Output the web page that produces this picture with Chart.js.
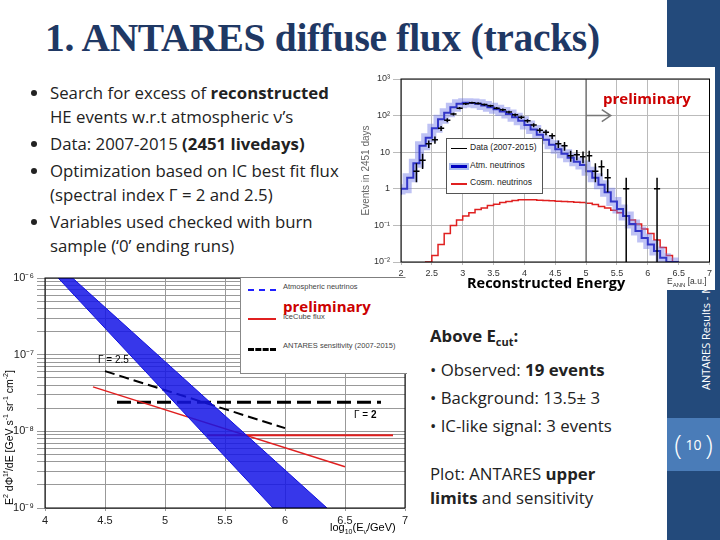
<!DOCTYPE html>
<html><head><meta charset="utf-8">
<script src="https://cdn.jsdelivr.net/npm/chart.js@4"></script>
<style>
body{margin:0;width:720px;height:540px;position:relative;overflow:hidden;background:#fff;font-family:"Open Sans",sans-serif;}
.abs{position:absolute;}
#side{left:667px;top:0;width:53px;height:540px;background:#234a7b;}
#pg{left:667px;top:418px;width:53px;height:53px;background:#4a7cb8;color:#fff;font-size:14px;text-align:center;line-height:53px;}
#title{left:45px;top:15px;font-family:"Liberation Serif",serif;font-weight:bold;font-size:39.5px;color:#1f3864;white-space:nowrap;letter-spacing:-0.3px}
.txt{font-size:16.8px;color:#222;line-height:24px;}
ul{margin:0;padding-left:22px;}
li{margin:0 0 3px 0;}
.leg{background:#fff;border:1px solid #555;font-family:"Liberation Sans",sans-serif;font-size:8.5px;color:#222;}
.prel{color:#c00;font-weight:bold;font-size:15px;}
</style></head><body>
<div id="side" class="abs"></div>
<div id="pg" class="abs"><span style="font-size:28px;font-weight:100;vertical-align:top">(</span> 10 <span style="font-size:28px;font-weight:100;vertical-align:top">)</span></div>
<div class="abs" style="left:698px;top:390px;transform:rotate(-90deg);transform-origin:0 0;color:#fff;font-size:11px;white-space:nowrap">ANTARES Results - M</div>
<div id="title" class="abs">1. ANTARES diffuse flux (tracks)</div>
<div class="abs txt" style="left:28px;top:81px;width:322px">
<ul>
<li>Search for excess of <b>reconstructed</b> HE events w.r.t atmospheric ν’s</li>
<li>Data: 2007-2015 <b>(2451 livedays)</b></li>
<li>Optimization based on IC best fit flux (spectral index Γ = 2 and 2.5)</li>
<li>Variables used checked with burn sample (‘0’ ending runs)</li>
</ul></div>
<div class="abs" style="left:360px;top:67px;width:355px;height:223px;background:#fff"></div>
<canvas id="c1" class="abs" width="355" height="211" style="left:360px;top:67px"></canvas>
<div class="abs" style="left:667px;top:276px;font-size:8.5px;color:#333;font-family:'Liberation Sans';white-space:nowrap">E<sub style="font-size:6px">ANN</sub> [a.u.]</div>
<div class="abs leg" style="left:446px;top:138px;width:95px;height:54px">
<div style="position:absolute;left:4px;top:9px;width:16px;border-top:1px solid #000"></div><div style="position:absolute;left:23px;top:3px;white-space:nowrap">Data (2007-2015)</div>
<div style="position:absolute;left:4px;top:26px;width:16px;border-top:3px solid #0000c0;box-shadow:0 0 0 2px #aabbee"></div><div style="position:absolute;left:23px;top:21px">Atm. neutrinos</div>
<div style="position:absolute;left:4px;top:44px;width:16px;border-top:2px solid #e02020"></div><div style="position:absolute;left:23px;top:38px;white-space:nowrap">Cosm. neutrinos</div>
</div>
<div class="abs prel" style="left:603px;top:88px">preliminary</div>
<div class="abs" style="left:467px;top:273px;font-weight:bold;font-size:14.5px">Reconstructed Energy</div>

<canvas id="c2" class="abs" width="420" height="275" style="left:0;top:265px"></canvas>
<div class="abs leg" style="left:240px;top:278px;width:166px;height:95px;border:none;border-left:1px solid #888;border-bottom:1px solid #888;font-size:7.5px;color:#444">
<div style="position:absolute;left:7px;top:11px;width:28px;border-top:2px dashed #2020ff"></div><div style="position:absolute;left:42px;top:4px">Atmospheric neutrinos</div>
<div style="position:absolute;left:7px;top:40px;width:28px;border-top:2px solid #e02020"></div><div style="position:absolute;left:42px;top:34px">IceCube flux</div>
<div style="position:absolute;left:7px;top:70px;width:28px;border-top:3px dashed #000"></div><div style="position:absolute;left:42px;top:63px">ANTARES sensitivity (2007-2015)</div>
</div>
<div class="abs prel" style="left:283px;top:296px">preliminary</div>
<div class="abs" style="left:98px;top:354px;font-size:10px;font-family:'Liberation Sans'">Γ = 2.5</div>
<div class="abs" style="left:354px;top:409px;font-size:10px;font-family:'Liberation Sans'">Γ = <b>2</b></div>
<div class="abs" style="left:330px;top:521px;font-size:11px;font-family:'Liberation Sans'">log<sub style="font-size:7px">10</sub>(E<sub style="font-size:7px">ν</sub>/GeV)</div>
<div class="abs" style="left:2px;top:505px;transform:rotate(-90deg);transform-origin:0 0;font-size:10.5px;font-family:'Liberation Sans';white-space:nowrap">E<sup style="font-size:7px">2</sup> dΦ<sup style="font-size:7px">1f</sup>/dE [GeV s<sup style="font-size:7px">-1</sup> sr<sup style="font-size:7px">-1</sup> cm<sup style="font-size:7px">-2</sup>]</div>

<div class="abs txt" style="left:430px;top:322px;line-height:28px">
<div><b>Above E<sub style="font-size:11px">cut</sub>:</b></div>
<div>• Observed: <b>19 events</b></div>
<div>• Background: 13.5± 3</div>
<div>• IC-like signal: 3 events</div>
</div>
<div class="abs txt" style="left:430px;top:462px;line-height:24px">Plot: ANTARES <b>upper<br>limits</b> and sensitivity</div>

<script>
// ---- top histogram data ----
const binEdges=[2.0,2.1,2.2,2.3,2.4,2.5,2.6,2.7,2.8,2.9,3.0,3.1,3.2,3.3,3.4,3.5,3.6,3.7,3.8,3.9,4.0,4.1,4.2,4.3,4.4,4.5,4.6,4.7,4.8,4.9,5.0,5.1,5.2,5.3,5.4,5.5,5.6,5.7,5.8,5.9,6.0,6.1,6.2,6.3,6.4,6.5];
const atmNu=[0.7,1,2,5,15,25,45,80,120,170,210,225,220,210,190,170,150,130,110,90,72,55,42,30,22,16,12,9,7,5.5,4.5,3,2,1.3,0.8,0.45,0.28,0.18,0.11,0.07,0.045,0.03,0.02,0.013,0.01,0.01];
const cosmNu=[0.001,0.001,0.001,0.001,0.001,0.01,0.015,0.03,0.06,0.1,0.14,0.18,0.22,0.27,0.3,0.35,0.38,0.42,0.45,0.48,0.5,0.5,0.5,0.49,0.48,0.47,0.46,0.45,0.44,0.43,0.42,0.4,0.37,0.33,0.3,0.26,0.22,0.18,0.14,0.11,0.08,0.06,0.04,0.025,0.015,0.01];
const dataX=[2.25,2.35,2.45,2.55,2.65,2.75,2.85,2.95,3.05,3.15,3.25,3.35,3.45,3.55,3.65,3.75,3.85,3.95,4.05,4.15,4.25,4.35,4.45,4.55,4.65,4.75,4.85,4.95,5.05,5.15,5.25,5.35,5.65,6.15];
const dataY=[3,6,17,22,45,75,110,160,210,225,215,200,185,160,145,125,105,90,72,55,40,35,28,17,15,8,8.5,7.5,8,3,4,2,1,1];
const dataLo=[1.5,3.5,13,17,38,66,100,148,196,210,200,186,172,148,133,114,95,81,64,48,34,29,23,13,11,5.5,6,5,5.5,1.5,2.2,0.8,0.01,0.01];
const dataHi=[5,9,21,27,52,84,120,172,224,240,230,214,198,172,157,136,115,99,80,62,46,41,33,21,19,11,11.5,10.5,11,5,6,3.5,2,2];
const topTicks=[0.01,0.1,1,10,100,1000];
const topTickLabels=["10⁻²","10⁻¹","1","10","10²","10³"];
// ---- bottom flux data ----
const bandPolygon=[{x:4.11,y:1e-6},{x:4.23,y:1e-6},{x:6.35,y:1e-9},{x:5.9,y:1e-9},{x:4.11,y:1e-6}];
const icG25=[{x:4.4,y:3.8e-8},{x:6.5,y:3.45e-9}];
const icG2=[{x:5.35,y:8.9e-9},{x:6.9,y:8.9e-9}];
const sensG25=[{x:4.5,y:6.1e-8},{x:6.0,y:1.1e-8}];
const sensG2=[{x:4.6,y:2.4e-8},{x:6.8,y:2.4e-8}];
const botTicks=[1e-9,1e-8,1e-7,1e-6];
const botTickLabels=["10⁻⁹","10⁻⁸","10⁻⁷","10⁻⁶"];

Chart.defaults.font.family="Liberation Sans";
Chart.defaults.animation=false;
const hist=(vals)=>binEdges.map((x,i)=>({x,y:vals[i]}));
const errPlugin={id:'err',afterDatasetsDraw(ch){
  const c=ch.ctx,xs=ch.scales.x,ys=ch.scales.y;c.save();c.strokeStyle='#000';c.lineWidth=1.5;
  dataX.forEach((x,i)=>{const px=xs.getPixelForValue(x);
    c.beginPath();c.moveTo(px,ys.getPixelForValue(Math.max(dataLo[i],0.01)));c.lineTo(px,ys.getPixelForValue(dataHi[i]));
    c.moveTo(xs.getPixelForValue(x-0.05),ys.getPixelForValue(dataY[i]));c.lineTo(xs.getPixelForValue(x+0.05),ys.getPixelForValue(dataY[i]));c.stroke();});
  const p5=xs.getPixelForValue(5);c.strokeStyle='#777';c.lineWidth=1.5;c.beginPath();c.moveTo(p5,ch.chartArea.top);c.lineTo(p5,ch.chartArea.bottom);
  const ay=ys.getPixelForValue(100),pe=xs.getPixelForValue(5.4);c.moveTo(p5,ay);c.lineTo(pe,ay);c.moveTo(pe-9,ay-6);c.lineTo(pe,ay);c.lineTo(pe-9,ay+6);c.stroke();
  c.restore();}};
const frame={id:'frame',afterDraw(ch){const a=ch.chartArea,c=ch.ctx;c.save();c.strokeStyle='#000';c.lineWidth=1;c.strokeRect(a.left,a.top,a.right-a.left,a.bottom-a.top);c.restore();}};
const fmtX=v=>String(v);

new Chart(document.getElementById('c1'),{type:'scatter',
 data:{datasets:[
  {data:hist(atmNu),showLine:true,stepped:'after',borderColor:'rgba(110,120,230,0.45)',borderWidth:9,pointRadius:0},
  {data:hist(atmNu),showLine:true,stepped:'after',borderColor:'#0000b0',borderWidth:2,pointRadius:0},
  {data:hist(cosmNu),showLine:true,stepped:'after',borderColor:'#e02020',borderWidth:1.5,pointRadius:0}]},
 options:{responsive:false,devicePixelRatio:1,layout:{padding:{top:12,right:3}},
  plugins:{legend:{display:false},tooltip:{enabled:false}},
  scales:{x:{type:'linear',min:2,max:7,ticks:{stepSize:0.5,autoSkip:false,font:{size:9},color:'#333',maxRotation:0,callback:fmtX},
      grid:{color:'#bbb',borderDash:[1,2],tickLength:3},afterFit(s){s.height=16;}},
    y:{type:'logarithmic',min:0.01,max:1000,afterBuildTicks(s){s.ticks=topTicks.map(v=>({value:v}));},
      ticks:{font:{size:9},color:'#333',callback:(v)=>topTickLabels[topTicks.indexOf(v)]},
      grid:{color:'#bbb',borderDash:[1,2]},title:{display:true,text:'Events in 2451 days',font:{size:10},padding:0},
      afterFit(s){s.width=41;}}}},
 plugins:[errPlugin,frame]});

new Chart(document.getElementById('c2'),{type:'scatter',
 data:{datasets:[
  {data:bandPolygon,showLine:true,borderColor:'#1010e0',borderWidth:1,pointRadius:0,fill:'shape',backgroundColor:'rgba(20,20,230,0.85)'},
  {data:icG25,showLine:true,borderColor:'#e02020',borderWidth:1.5,pointRadius:0},
  {data:icG2,showLine:true,borderColor:'#e02020',borderWidth:2,pointRadius:0},
  {data:sensG25,showLine:true,borderColor:'#000',borderWidth:2,borderDash:[10,5],pointRadius:0},
  {data:sensG2,showLine:true,borderColor:'#000',borderWidth:3,borderDash:[14,6],pointRadius:0}]},
 options:{responsive:false,devicePixelRatio:1,layout:{padding:{top:13,right:15}},
  plugins:{legend:{display:false},tooltip:{enabled:false}},
  scales:{x:{type:'linear',min:4,max:7,ticks:{stepSize:0.5,autoSkip:false,font:{size:11},color:'#222',maxRotation:0,callback:fmtX},
      grid:{color:'#999',borderDash:[1,2],tickLength:3},afterFit(s){s.height=32;}},
    y:{type:'logarithmic',min:1e-9,max:1e-6,
      afterBuildTicks(s){const t=[];botTicks.forEach(v=>t.push({value:v}));[2,3,4,5,6,7,8,9].forEach(m=>{t.push({value:m*1e-9});t.push({value:m*1e-8});t.push({value:m*1e-7});});s.ticks=t;},
      ticks:{font:{size:11},color:'#222',autoSkip:false,callback:(v)=>{const i=botTicks.indexOf(v);return i>=0?botTickLabels[i]:'';}},
      grid:{color:'#999',borderDash:[2,2]},afterFit(s){s.width=45;}}}},
 plugins:[frame]});
</script>
</body></html>
